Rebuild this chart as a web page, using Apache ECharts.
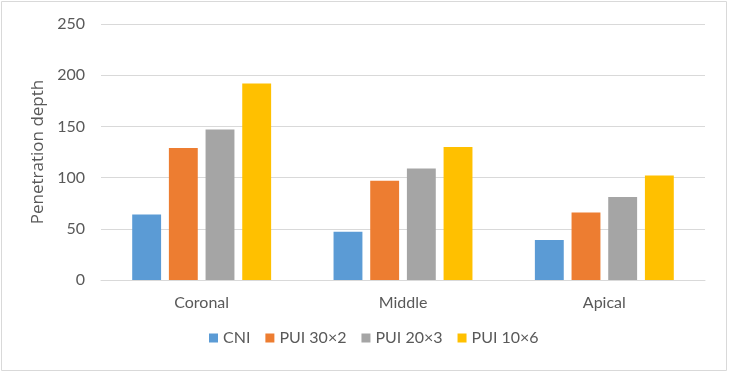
<!DOCTYPE html>
<html><head><meta charset="utf-8">
<script src="https://cdn.jsdelivr.net/npm/echarts@6/dist/echarts.min.js"></script>
<style>html,body{margin:0;padding:0;background:#fff}#c{width:729px;height:373px}</style>
</head><body><div id="c"></div>
<script>
const categories = ['Coronal', 'Middle', 'Apical'];
const seriesNames = ['CNI', 'PUI 30×2', 'PUI 20×3', 'PUI 10×6'];
const cni = [64, 47, 39];
const pui30x2 = [129, 97, 66];
const pui20x3 = [147, 109, 81];
const pui10x6 = [192, 130, 102];
const colors = ['#5B9BD5', '#ED7D31', '#A5A5A5', '#FFC000'];
const yTicks = [0, 50, 100, 150, 200, 250];

const chart = echarts.init(document.getElementById('c'));
const font = 'Lato, "Open Sans", sans-serif';
const seriesData = [cni, pui30x2, pui20x3, pui10x6];
chart.setOption({
  animation: false,
  color: colors,
  textStyle: { fontFamily: font },
  graphic: [{ type: 'rect', shape: { x: 1.5, y: 1.5, width: 725, height: 369 }, style: { fill: 'none', stroke: '#D9D9D9', lineWidth: 1 } }],
  grid: { left: 101, right: 24, top: 24, bottom: 93 },
  legend: {
    bottom: 22, left: 204, itemWidth: 9, itemHeight: 9, itemGap: 15,
    icon: 'rect',
    textStyle: { color: '#595959', fontSize: 16, fontFamily: font },
    data: seriesNames
  },
  xAxis: {
    type: 'category', data: categories,
    axisLine: { lineStyle: { color: '#D9D9D9' } },
    axisTick: { show: false },
    axisLabel: { color: '#595959', fontSize: 16, margin: 15, fontFamily: font }
  },
  yAxis: {
    type: 'value', min: yTicks[0], max: yTicks[yTicks.length - 1], interval: 50,
    name: 'Penetration depth', nameLocation: 'middle', nameGap: 53,
    nameTextStyle: { color: '#595959', fontSize: 17, fontFamily: '"Open Sans", sans-serif' },
    axisLine: { show: false }, axisTick: { show: false },
    axisLabel: { color: '#595959', fontSize: 16, margin: 16, fontFamily: font },
    splitLine: { lineStyle: { color: '#D9D9D9' } }
  },
  series: seriesNames.map((n, i) => ({
    name: n, type: 'bar', data: seriesData[i],
    barGap: '27%', barCategoryGap: '31%'
  }))
});
</script></body></html>
